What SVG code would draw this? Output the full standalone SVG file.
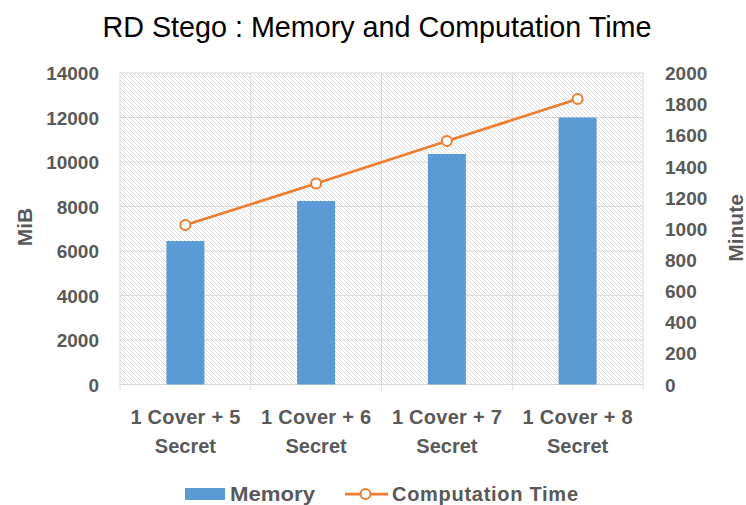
<svg xmlns="http://www.w3.org/2000/svg" width="746" height="505" viewBox="0 0 746 505">
<defs>
<pattern id="hatch" width="4" height="4" patternUnits="userSpaceOnUse">
<path d="M-1,-1 L5,5 M3,-1 L5,1 M-1,3 L1,5" stroke="#d6d6d6" stroke-width="0.8"/>
</pattern>
</defs>
<style>
.t{font-family:"Liberation Sans",Arial,sans-serif;font-weight:bold;fill:#595959;font-size:19px}
.r{text-anchor:end}
.c{text-anchor:middle;font-size:20px}
.grid{stroke:#d9d9d9;stroke-width:1;fill:none}
.bar{fill:#5b9bd5}
.mk{fill:#ffffff;stroke:#ed7d31;stroke-width:2}
</style>
<rect width="746" height="505" fill="#ffffff"/>
<text x="377" y="37" text-anchor="middle" font-family="Liberation Sans,Arial,sans-serif" font-size="29" fill="#000" textLength="549" lengthAdjust="spacingAndGlyphs">RD Stego : Memory and Computation Time</text>
<g id="plot">
<rect x="120" y="73" width="523" height="311.5" fill="url(#hatch)"/>
<path class="grid" d="M120,73H643M120,117.5H643M120,162H643M120,206.5H643M120,251H643M120,295.5H643M120,340H643M120,384.5H643M120,73V390M250.75,73V390M381.5,73V390M512.25,73V390M643,73V390"/>
</g>
<g id="left-axis">
<text class="t r" x="99" y="80">14000</text>
<text class="t r" x="99" y="124.5">12000</text>
<text class="t r" x="99" y="169">10000</text>
<text class="t r" x="99" y="213.5">8000</text>
<text class="t r" x="99" y="258">6000</text>
<text class="t r" x="99" y="302.5">4000</text>
<text class="t r" x="99" y="347">2000</text>
<text class="t r" x="99" y="391.5">0</text>
<text class="t" text-anchor="middle" transform="translate(31.5,227) rotate(-90)" style="font-size:21px">MiB</text>
</g>
<g id="right-axis">
<text class="t" x="665" y="80">2000</text>
<text class="t" x="665" y="111.2">1800</text>
<text class="t" x="665" y="142.3">1600</text>
<text class="t" x="665" y="173.5">1400</text>
<text class="t" x="665" y="204.6">1200</text>
<text class="t" x="665" y="235.8">1000</text>
<text class="t" x="665" y="266.9">800</text>
<text class="t" x="665" y="298.1">600</text>
<text class="t" x="665" y="329.2">400</text>
<text class="t" x="665" y="360.4">200</text>
<text class="t" x="665" y="391.5">0</text>
<text class="t" text-anchor="middle" transform="translate(742.5,228) rotate(-90)" style="font-size:21px">Minute</text>
</g>
<g id="bars">
<rect class="bar" x="166.4" y="241" width="38" height="143.5"/>
<rect class="bar" x="297.1" y="201" width="38" height="183.5"/>
<rect class="bar" x="427.9" y="154" width="38" height="230.5"/>
<rect class="bar" x="558.6" y="117.5" width="38" height="267"/>
</g>
<g id="connectors">
<polyline points="185.4,225 316.1,183.5 446.9,141 577.6,99" fill="none" stroke="#ed7d31" stroke-width="2.75" stroke-linejoin="round"/>
</g>
<g id="markers">
<circle class="mk" cx="185.4" cy="225" r="5"/>
<circle class="mk" cx="316.1" cy="183.5" r="5"/>
<circle class="mk" cx="446.9" cy="141" r="5"/>
<circle class="mk" cx="577.6" cy="99" r="5"/>
</g>
<g id="categories">
<text class="t c" x="185.4" y="423.5" textLength="110">1 Cover + 5</text>
<text class="t c" x="185.4" y="453">Secret</text>
<text class="t c" x="316.1" y="423.5" textLength="110">1 Cover + 6</text>
<text class="t c" x="316.1" y="453">Secret</text>
<text class="t c" x="446.9" y="423.5" textLength="110">1 Cover + 7</text>
<text class="t c" x="446.9" y="453">Secret</text>
<text class="t c" x="577.6" y="423.5" textLength="110">1 Cover + 8</text>
<text class="t c" x="577.6" y="453">Secret</text>
</g>
<g id="legend">
<rect class="bar" x="185" y="488" width="40" height="12"/>
<text class="t" x="230" y="500.5" style="font-size:21px" textLength="85" lengthAdjust="spacingAndGlyphs">Memory</text>
<line x1="345" y1="494" x2="388" y2="494" stroke="#ed7d31" stroke-width="2.75"/>
<circle class="mk" cx="365.5" cy="494" r="5"/>
<text class="t" x="392" y="500.5" style="font-size:20px" textLength="186">Computation Time</text>
</g>
</svg>
